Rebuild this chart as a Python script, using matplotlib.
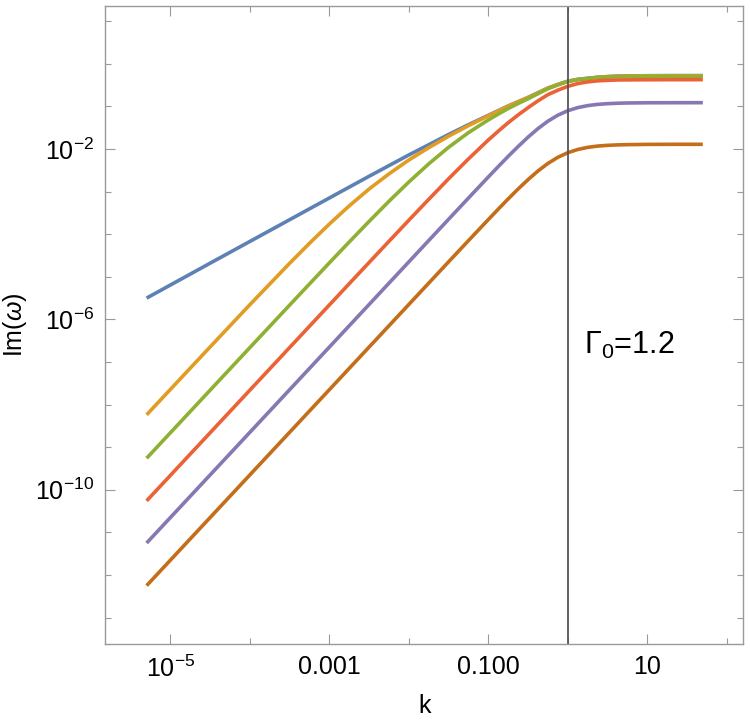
import matplotlib
matplotlib.use("Agg")
import matplotlib.pyplot as plt
import numpy as np
from matplotlib.ticker import FixedLocator, NullFormatter

plt.rcParams["font.family"] = ["Liberation Sans", "DejaVu Sans"]
plt.rcParams["mathtext.fontset"] = "custom"
plt.rcParams["mathtext.rm"] = "Liberation Sans"
plt.rcParams["mathtext.it"] = "Liberation Sans:italic"

log_k = [-5.3, -4.5, -4, -3.5, -3.25, -3, -2.75, -2.5, -2.25, -2, -1.75, -1.5, -1.25, -1,
         -0.875, -0.75, -0.625, -0.5, -0.375, -0.25, -0.125, 0, 0.125, 0.25, 0.375, 0.5,
         0.625, 0.75, 1, 1.3, 1.7]

# log10(Im w) for each curve
blue = [-5.50, -4.68, -4.17, -3.66, -3.405, -3.15, -2.895, -2.64, -2.39, -2.14, -1.90, -1.66,
        -1.43, -1.21, -1.10, -0.99, -0.89, -0.79, -0.68, -0.57, -0.485, -0.41, -0.365, -0.34,
        -0.317, -0.30, -0.29, -0.285, -0.28, -0.278, -0.278]
orange = [-8.24, -6.645, -5.654, -4.683, -4.213, -3.762, -3.335, -2.94, -2.584, -2.259, -1.97,
          -1.70, -1.452, -1.221, -1.108, -0.996, -0.893, -0.793, -0.683, -0.572, -0.487, -0.41,
          -0.37, -0.345, -0.318, -0.303, -0.292, -0.287, -0.282, -0.28, -0.28]
green = [-9.26, -7.66, -6.661, -5.664, -5.168, -4.673, -4.183, -3.70, -3.228, -2.775, -2.35,
         -1.961, -1.617, -1.318, -1.181, -1.05, -0.933, -0.821, -0.703, -0.587, -0.496, -0.418,
         -0.372, -0.345, -0.32, -0.31, -0.30, -0.298, -0.294, -0.293, -0.293]
red = [-10.26, -8.66, -7.66, -6.66, -6.16, -5.661, -5.162, -4.664, -4.167, -3.673, -3.183,
       -2.70, -2.234, -1.79, -1.583, -1.384, -1.201, -1.031, -0.87, -0.725, -0.62, -0.53,
       -0.465, -0.425, -0.40, -0.388, -0.38, -0.377, -0.375, -0.373, -0.373]
purple = [-11.25, -9.65, -8.65, -7.65, -7.15, -6.65, -6.15, -5.65, -5.15, -4.65, -4.15,
          -3.651, -3.153, -2.658, -2.414, -2.174, -1.943, -1.723, -1.522, -1.348, -1.207,
          -1.102, -1.029, -0.982, -0.953, -0.936, -0.926, -0.920, -0.915, -0.914, -0.913]
dark_orange = [-12.25, -10.65, -9.65, -8.65, -8.15, -7.65, -7.15, -6.65, -6.15, -5.65, -5.15,
               -4.65, -4.152, -3.658, -3.413, -3.173, -2.940, -2.72, -2.517, -2.34, -2.196,
               -2.087, -2.012, -1.962, -1.932, -1.914, -1.904, -1.898, -1.892, -1.89, -1.89]

series = [blue, orange, green, red, purple, dark_orange]
colors = ["#5E81B5", "#E19C24", "#8FB032", "#EB6235", "#8778B3", "#C56E1A"]

k_line = 1.0
x_major = [1e-5, 1e-3, 1e-1, 1e1]
x_labels = [r"$10^{-5}$", "0.001", "0.100", "10"]
y_major = [1e-10, 1e-6, 1e-2]
y_labels = [r"$10^{-10}$", r"$10^{-6}$", r"$10^{-2}$"]

fig = plt.figure(figsize=(7.5, 7.21), dpi=100)
ax = fig.add_axes([0.1404, 0.1068, 0.8507, 0.8849])

k = 10 ** np.array(log_k)
for s, c in zip(series, colors):
    ax.plot(k, 10 ** np.array(s), color=c, lw=2.6, solid_capstyle="butt",
            solid_joinstyle="round")

ax.axvline(k_line, color="#555555", lw=1.3)

ax.set_xscale("log")
ax.set_yscale("log")
ax.set_xlim(10 ** -5.82, 10 ** 2.21)
ax.set_ylim(10 ** -13.62, 10 ** 1.357)

ax.xaxis.set_major_locator(FixedLocator(x_major))
ax.set_xticklabels(x_labels)
ax.xaxis.set_minor_locator(FixedLocator([1e-4, 1e-2, 1e0, 1e2]))
ax.xaxis.set_minor_formatter(NullFormatter())
ax.yaxis.set_major_locator(FixedLocator(y_major))
ax.set_yticklabels(y_labels)
ax.yaxis.set_minor_locator(FixedLocator([10.0 ** e for e in range(-13, 2)]))
ax.yaxis.set_minor_formatter(NullFormatter())

ax.tick_params(which="both", direction="in", top=True, right=True, color="#999999",
               width=0.8, labelsize=18, pad=8)
ax.tick_params(which="major", length=7)
ax.tick_params(which="minor", length=4)
for sp in ax.spines.values():
    sp.set_color("#999999")
    sp.set_linewidth(1.0)

ax.set_xlabel("k", fontsize=18, va="center")
ax.xaxis.set_label_coords(0.5, -0.097)
ax.set_ylabel(r"Im($\omega$)", fontsize=18, va="center")
ax.yaxis.set_label_coords(-0.1415, 0.5)

ax.text(1.6, 10 ** -6.62, r"$\Gamma_0$=1.2", fontsize=22, va="center", ha="left")

fig.savefig("out.png", dpi=100)
